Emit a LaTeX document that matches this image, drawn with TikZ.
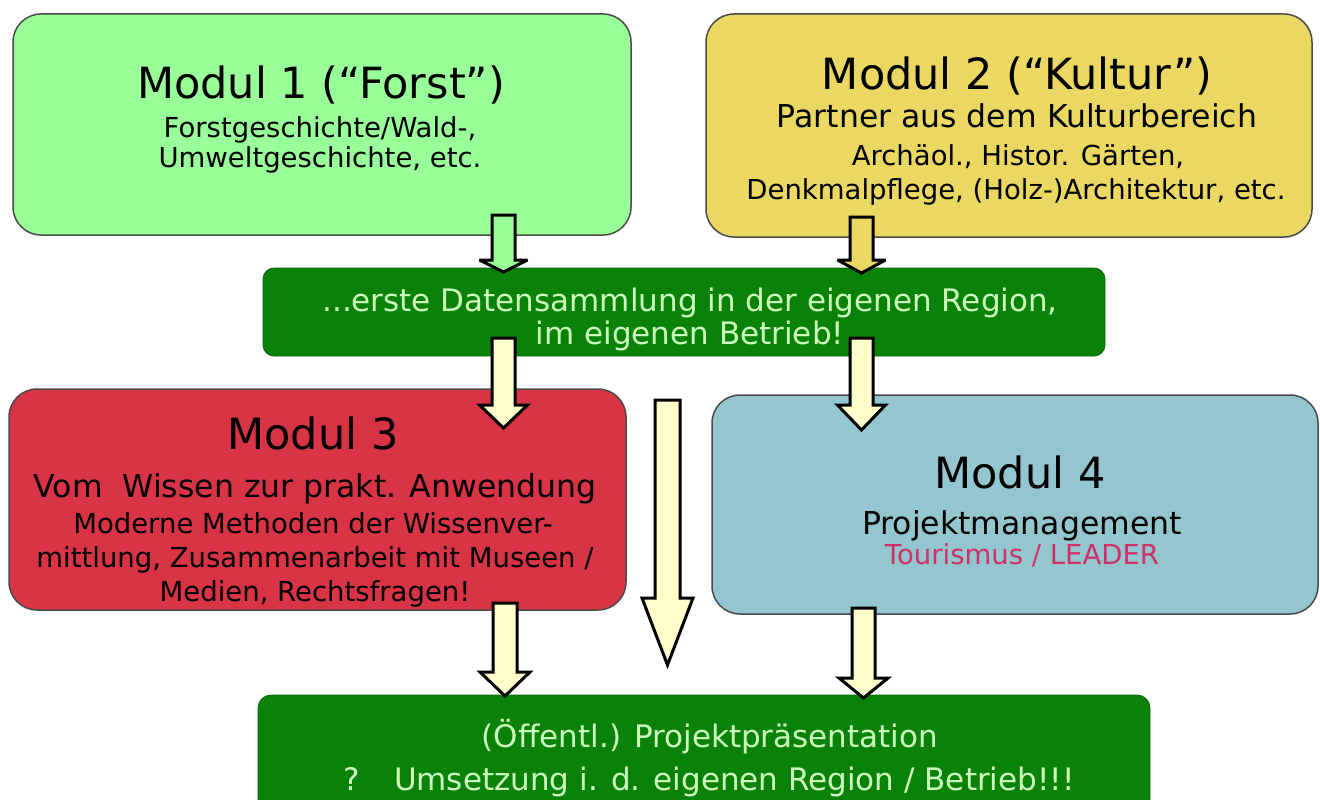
\documentclass[tikz,border=0pt]{standalone}
\usepackage{fontspec}
\setmainfont{DejaVu Sans}
\definecolor{fgreen}{HTML}{99FF99}
\definecolor{kyellow}{HTML}{EBD862}
\definecolor{dgreen}{HTML}{0A820A}
\definecolor{mred}{HTML}{D83446}
\definecolor{mblue}{HTML}{93C6CF}
\definecolor{aryellow}{HTML}{FFFFCC}
\definecolor{boxline}{HTML}{4A4A4A}
\definecolor{lgtext}{HTML}{CCFFBB}
\definecolor{pinktext}{HTML}{D0306A}
\tikzset{
  modbox/.style={draw=boxline, line width=1.5pt, rounded corners=28pt, inner sep=0pt},
  barbox/.style={draw=dgreen!80!black, line width=0.8pt, fill=dgreen, rounded corners=11pt, inner sep=0pt},
  arrowline/.style={draw=black, line width=3pt, line join=miter, miter limit=3},
  ttl/.style={anchor=base, font=\fontsize{43}{43}\selectfont},
  big/.style={anchor=base, font=\fontsize{31.5}{31.5}\selectfont},
  med/.style={anchor=base, font=\fontsize{27.5}{27.5}\selectfont},
  bar/.style={anchor=base, text=lgtext, font=\fontsize{31}{31}\selectfont},
}
% name, x, shaft half, top, head start, head half, tip, fill
\newcommand\blockarrow[8]{%
  \draw[arrowline, fill=#8]
    ({#2-#3},#4) coordinate (#1-top) -- ({#2+#3},#4) -- ({#2+#3},#5) -- ({#2+#6},#5)
    -- (#2,#7) coordinate (#1-tip) -- ({#2-#6},#5) -- ({#2-#3},#5) -- cycle;}
\begin{document}
\begin{tikzpicture}[x=1pt,y=-1pt]
\useasboundingbox (0,0) rectangle (1320,800);
\fill[white] (0,0) rectangle (1320,800);
% boxes
\node[modbox, fill=fgreen, minimum width=618pt, minimum height=221pt] (m1) at (322,124.5) {};
\node[modbox, fill=kyellow, minimum width=606pt, minimum height=223pt] (m2) at (1009,125.5) {};
\node[barbox, minimum width=842pt, minimum height=88pt] (b1) at (684,312) {};
\node[modbox, fill=mred, minimum width=617pt, minimum height=221pt] (m3) at (317.5,499.5) {};
\node[modbox, fill=mblue, minimum width=606pt, minimum height=219pt] (m4) at (1015,504.5) {};
\node[barbox, rounded corners=13pt, minimum width=892pt, minimum height=140pt] (b2) at (704,765) {};
% texts
\node[ttl] (t1a) at (321,98) {Modul 1 (“Forst”)};
\node[med] (t1b) at (320,137) {Forstgeschichte/Wald-,};
\node[med] (t1c) at (320,167) {Umweltgeschichte, etc.};
\node[ttl] (t2a) at (1017,89) {Modul 2 (“Kultur”)};
\node[big] (t2b) at (1017,127) {Partner aus dem Kulturbereich};
\node[med] (t2c) at (1018,165) {Archäol., Histor. Gärten,};
\node[med] (t2d) at (1016,199) {Denkmalpflege, (Holz-)Architektur, etc.};
\node[bar] (tb1a) at (690,311) {...erste Datensammlung in der eigenen Region,};
\node[bar] (tb1b) at (690,344) {im eigenen Betrieb!};
\node[ttl] (t3a) at (313,449) {Modul 3};
\node[big] (t3b) at (315,497) {Vom\ \ Wissen zur prakt. Anwendung};
\node[med] (t3c) at (313,533) {Moderne Methoden der Wissenver-};
\node[med] (t3d) at (315,567) {mittlung, Zusammenarbeit mit Museen /};
\node[med] (t3e) at (315,601) {Medien, Rechtsfragen!};
\node[ttl] (t4a) at (1020,488) {Modul 4};
\node[big] (t4b) at (1022,534) {Projektmanagement};
\node[med, text=pinktext] (t4c) at (1022,564) {Tourismus / LEADER};
\node[bar] (tb2a) at (710,747) {(Öffentl.) Projektpräsentation};
\node[bar] (tb2b) at (709,790) {?\hspace{1.1em}Umsetzung i. d. eigenen Region / Betrieb!!!};
% block arrows
\blockarrow{a1}{503.5}{11.5}{215}{260}{24}{272}{fgreen}
\blockarrow{a2}{861.5}{11.5}{217}{260}{24}{273}{kyellow}
\blockarrow{a3}{503.5}{11.5}{338}{405}{24}{428}{aryellow}
\blockarrow{a4}{861.5}{11.5}{338}{405}{24}{430}{aryellow}
\blockarrow{a5}{667.5}{12.5}{400}{598}{25.5}{665}{aryellow}
\blockarrow{a6}{505}{12}{603}{672}{25}{696}{aryellow}
\blockarrow{a7}{863.5}{11.5}{608}{678}{24.5}{698}{aryellow}
\end{tikzpicture}
\end{document}
